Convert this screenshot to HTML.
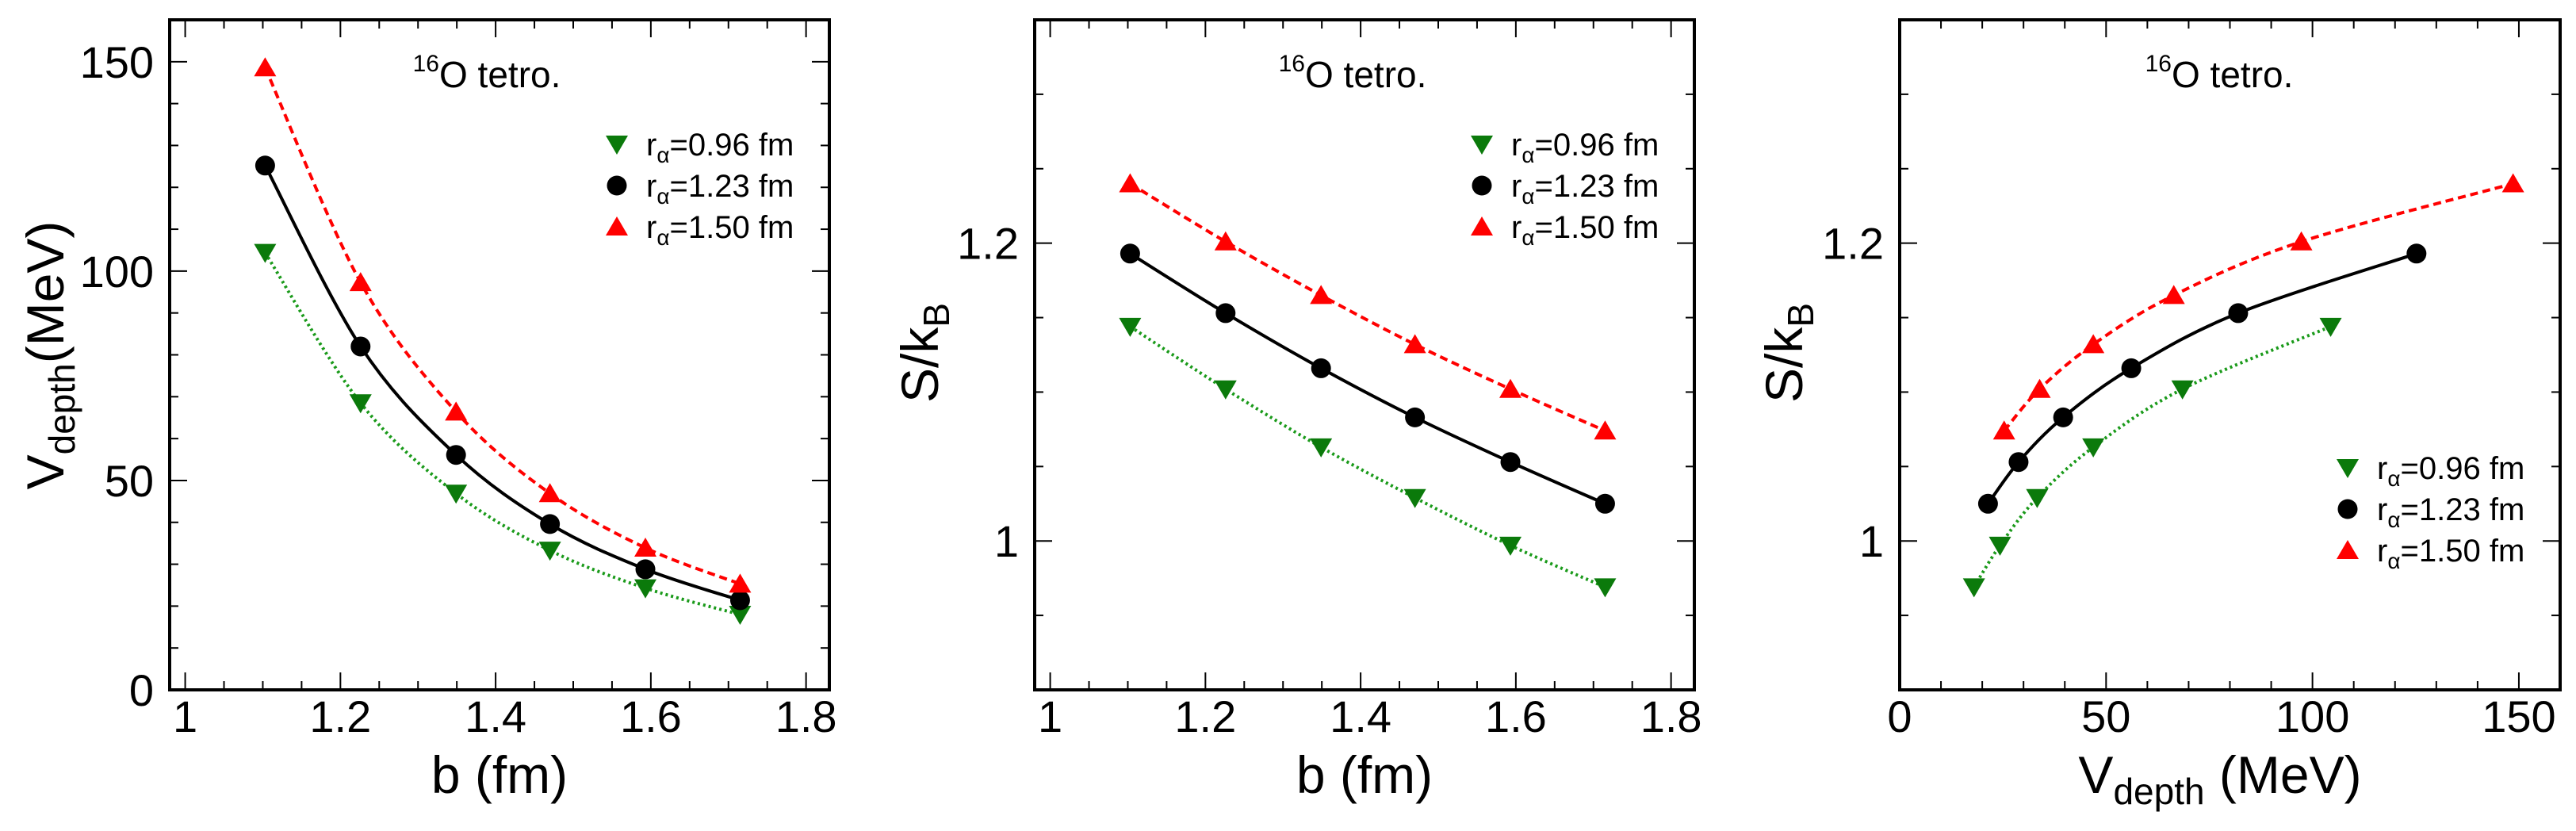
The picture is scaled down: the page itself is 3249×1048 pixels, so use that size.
<!DOCTYPE html>
<html><head><meta charset="utf-8"><style>
html,body{margin:0;padding:0;background:#fff}
svg{display:block}
text{font-family:"Liberation Sans",sans-serif;fill:#000}
</style></head><body>
<svg id="fig" width="3249" height="1048" viewBox="0 0 3249 1048"></svg>
<script>
const bValues=[1.103,1.226,1.349,1.470,1.593,1.715];
const vdepthR096=[104.4,68.5,46.9,33.3,24.3,18.0];
const vdepthR123=[125.2,82.0,56.1,39.6,28.8,21.4];
const vdepthR150=[148.6,97.3,66.4,46.9,33.9,25.3];
const entropyR096=[1.144,1.102,1.063,1.029,0.997,0.969];
const entropyR123=[1.193,1.153,1.116,1.083,1.053,1.025];
const entropyR150=[1.240,1.201,1.165,1.132,1.102,1.074];
const seriesLabels=["0.96","1.23","1.50"];
const bTicks=[1,1.2,1.4,1.6,1.8];
const bTickLabels=["1","1.2","1.4","1.6","1.8"];
const vTicks=[0,50,100,150];
const vTickLabels=["0","50","100","150"];
const sTicks=[1,1.2];
const sTickLabels=["1","1.2"];

const NS="http://www.w3.org/2000/svg";
const svg=document.getElementById('fig');
function mk(tag,attrs,parent){const e=document.createElementNS(NS,tag);for(const k in attrs)e.setAttribute(k,attrs[k]);(parent||svg).appendChild(e);return e;}

const styles=[
 {color:"#0b7a0b",line:"#1a9a1a",marker:"down",dash:"3,4",name:"r096"},
 {color:"#000000",line:"#000000",marker:"circle",dash:"",name:"r123"},
 {color:"#ff0000",line:"#ff0000",marker:"up",dash:"10,6",name:"r150"}
];

function spline(pts){
  let d="M"+pts[0][0]+","+pts[0][1];
  for(let i=0;i<pts.length-1;i++){
    const p0=pts[Math.max(0,i-1)],p1=pts[i],p2=pts[i+1],p3=pts[Math.min(pts.length-1,i+2)];
    const c1=[p1[0]+(p2[0]-p0[0])/6,p1[1]+(p2[1]-p0[1])/6];
    const c2=[p2[0]-(p3[0]-p1[0])/6,p2[1]-(p3[1]-p1[1])/6];
    d+=" C"+c1+" "+c2+" "+p2;
  }
  return d;
}
function marker(g,type,x,y,color){
  let e;
  if(type==="circle") e=mk('circle',{cx:x,cy:y,r:12.5,fill:color},g);
  else if(type==="up") e=mk('polygon',{points:`${x-14},${y+11} ${x+14},${y+11} ${x},${y-13}`,fill:color},g);
  else e=mk('polygon',{points:`${x-14},${y-11} ${x+14},${y-11} ${x},${y+13}`,fill:color},g);
  
  
}

function panel(cfg){
  const g=mk('g',{});
  
  
  const L=cfg.L,R=cfg.R,T=25,B=870;
  const sx=v=>L+(v-cfg.xmin)/(cfg.xmax-cfg.xmin)*(R-L);
  const sy=v=>B-(v-cfg.ymin)/(cfg.ymax-cfg.ymin)*(B-T);
  for(let v=cfg.xmin0;v<=cfg.xmax+1e-9;v+=cfg.xminor){
    const x=sx(v); if(x<L+1||x>R-1)continue;
    const major=cfg.xticks.some(t=>Math.abs(t-v)<1e-6);const len=major?22:11;
    mk('line',{x1:x,x2:x,y1:B,y2:B-len,stroke:"#000","stroke-width":2},g);
    mk('line',{x1:x,x2:x,y1:T,y2:T+len,stroke:"#000","stroke-width":2},g);
  }
  for(let v=cfg.ymin0;v<=cfg.ymax+1e-9;v+=cfg.yminor){
    const y=sy(v); if(y>B-1||y<T+1)continue;
    const major=cfg.yticks.some(t=>Math.abs(t-v)<1e-6);const len=major?22:11;
    mk('line',{x1:L,x2:L+len,y1:y,y2:y,stroke:"#000","stroke-width":2},g);
    mk('line',{x1:R,x2:R-len,y1:y,y2:y,stroke:"#000","stroke-width":2},g);
  }
  const fr=mk('rect',{x:L,y:T,width:R-L,height:B-T,fill:"none",stroke:"#000","stroke-width":4},g);
  
  cfg.xticks.forEach((t,i)=>{const e=mk('text',{x:sx(t),y:923,"font-size":56,"text-anchor":"middle"},g);e.textContent=cfg.xlabels[i];
    });
  cfg.yticks.forEach((t,i)=>{const e=mk('text',{x:L-20,y:sy(t)+20,"font-size":56,"text-anchor":"end"},g);e.textContent=cfg.ylabels[i];
    });
  cfg.series.forEach((s,k)=>{
    const st=styles[k];
    const pts=s.x.map((xv,i)=>[sx(xv),sy(s.y[i])]).sort((a,b)=>a[0]-b[0]);
    const p=mk('path',{d:spline(pts),fill:"none",stroke:st.line,"stroke-width":4,"stroke-dasharray":st.dash},g);
    
    pts.forEach(q=>marker(g,st.marker,q[0],q[1],st.color));
  });
  const an=mk('text',{x:cfg.annX,y:110,"font-size":46,"text-anchor":"middle"},g);
  an.innerHTML='<tspan font-size="30" dy="-20">16</tspan><tspan dy="20">O tetro.</tspan>';
  
  seriesLabels.forEach((lab,k)=>{
    const y=cfg.legY+k*52;
    marker(g,styles[k].marker,cfg.legX,y,styles[k].color);
    const t=mk('text',{x:cfg.legX+37,y:y+14,"font-size":40},g);
    t.innerHTML='r<tspan font-size="28" dy="9">α</tspan><tspan dy="-9">='+lab+' fm</tspan>';
    
  });
  const xt=mk('text',{x:cfg.xtX,y:1000,"font-size":66,"text-anchor":"middle"},g);
  xt.innerHTML=cfg.xtitle;
  const yt=mk('text',{x:0,y:0,"font-size":66,"text-anchor":"middle",transform:`translate(${cfg.ytX},${cfg.ytY}) rotate(-90)`},g);
  yt.innerHTML=cfg.ytitle;
}

panel({name:'panel-vdepth-vs-b',L:214,R:1046,xmin:0.98,xmax:1.83,ymin:0,ymax:160,xmin0:1,xminor:0.05,ymin0:0,yminor:10,
  xticks:bTicks,xlabels:bTickLabels,yticks:vTicks,ylabels:vTickLabels,
  series:[{x:bValues,y:vdepthR096},{x:bValues,y:vdepthR123},{x:bValues,y:vdepthR150}],
  annX:614,legX:778,legY:182,xtX:630,xtitle:'b (fm)',ytX:80,ytY:448,
  ytitle:'V<tspan font-size="46" dy="14">depth</tspan><tspan dy="-14">(MeV)</tspan>'});
panel({name:'panel-entropy-vs-b',L:1305,R:2137,xmin:0.98,xmax:1.83,ymin:0.9,ymax:1.35,xmin0:1,xminor:0.05,ymin0:0.9,yminor:0.05,
  xticks:bTicks,xlabels:bTickLabels,yticks:sTicks,ylabels:sTickLabels,
  series:[{x:bValues,y:entropyR096},{x:bValues,y:entropyR123},{x:bValues,y:entropyR150}],
  annX:1706,legX:1869,legY:182,xtX:1721,xtitle:'b (fm)',ytX:1183,ytY:445,
  ytitle:'S/k<tspan font-size="46" dy="14">B</tspan>'});
panel({name:'panel-entropy-vs-vdepth',L:2396,R:3229,xmin:0,xmax:160,ymin:0.9,ymax:1.35,xmin0:0,xminor:10,ymin0:0.9,yminor:0.05,
  xticks:vTicks,xlabels:vTickLabels,yticks:sTicks,ylabels:sTickLabels,
  series:[{x:vdepthR096,y:entropyR096},{x:vdepthR123,y:entropyR123},{x:vdepthR150,y:entropyR150}],
  annX:2799,legX:2961,legY:590,xtX:2800,xtitle:'V<tspan font-size="46" dy="14">depth</tspan><tspan dy="-14"> (MeV)</tspan>',ytX:2273,ytY:445,
  ytitle:'S/k<tspan font-size="46" dy="14">B</tspan>'});
</script>
</body></html>
